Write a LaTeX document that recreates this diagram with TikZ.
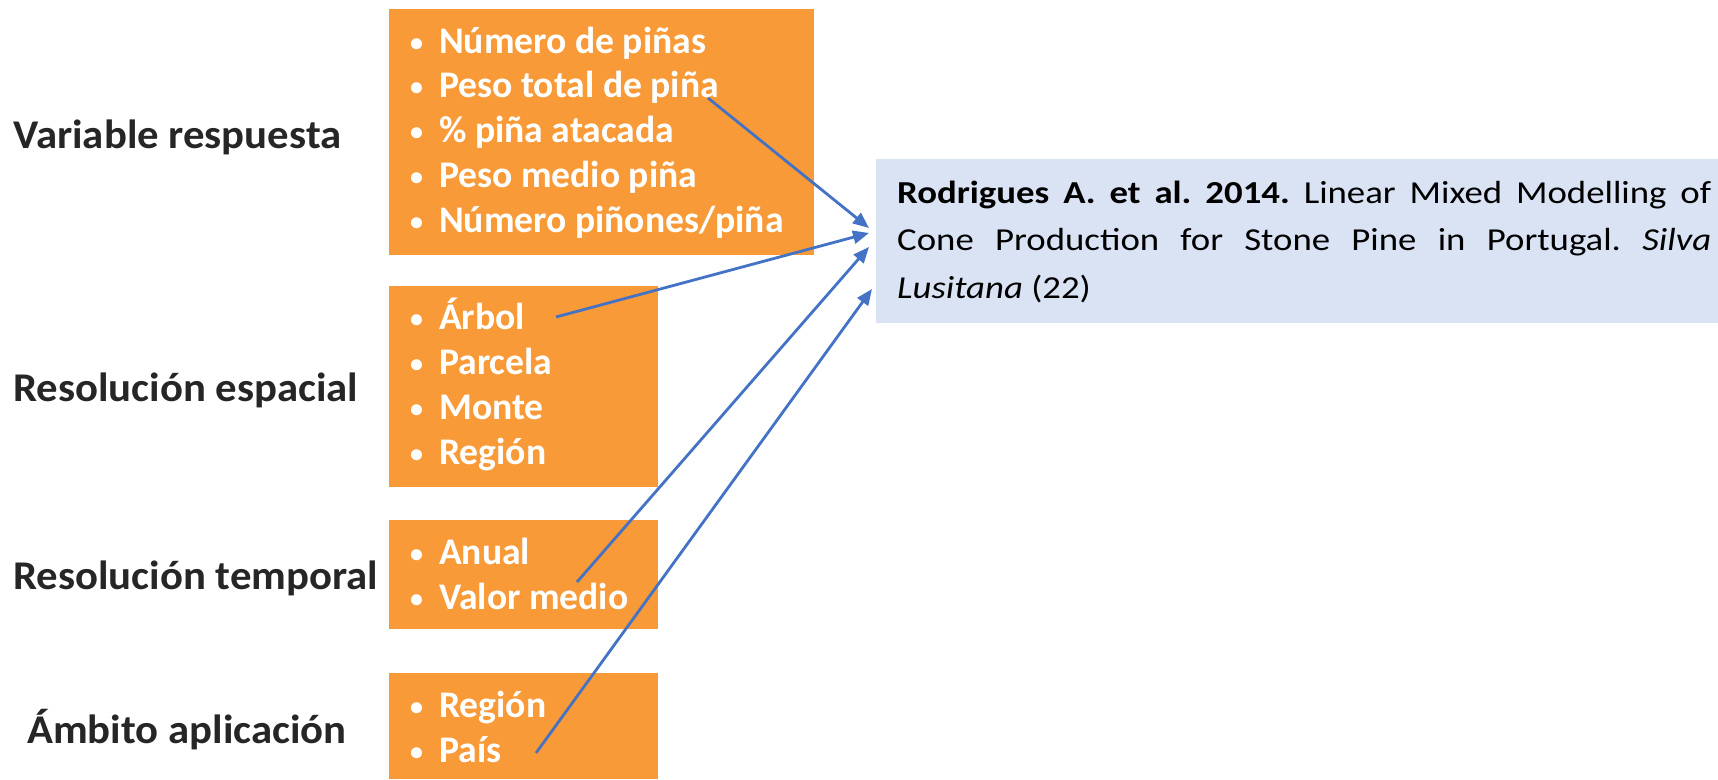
\documentclass[tikz,border=0pt]{standalone}
\usepackage{fontspec}
\setmainfont{Carlito}
\newfontfamily\labelfont{Carlito}[FakeStretch=1.048]
\newfontfamily\reffont{Carlito}[FakeStretch=1.15]
\usetikzlibrary{arrows.meta}
\definecolor{boxorange}{RGB}{249,154,56}
\definecolor{refblue}{RGB}{218,227,243}
\definecolor{arrowblue}{RGB}{68,114,196}
\definecolor{labelgray}{RGB}{38,38,38}
\newcommand\itembullet{\makebox[29pt][l]{\raisebox{2pt}{\fontsize{26}{26}\selectfont •}}}
\begin{document}
\begin{tikzpicture}[x=1pt,y=-1pt,
  obox/.style={fill=boxorange, draw=none, anchor=north west, inner sep=0},
  lbl/.style={anchor=base west, inner sep=0, font=\labelfont\fontsize{40.8}{48}\selectfont\bfseries, text=labelgray},
  items/.style={anchor=base west, inner sep=0, align=left, font=\fontsize{37.6}{44.7}\selectfont\bfseries, text=white},
  link/.style={draw=arrowblue, line width=2.8pt, -{Triangle[length=16pt,width=13pt]}}
]
\useasboundingbox (0,0) rectangle (1718,779);
\fill[white] (0,0) rectangle (1718,779);

% orange boxes
\node[obox, minimum width=425pt, minimum height=246pt] (b1) at (389,9) {};
\node[obox, minimum width=269pt, minimum height=201pt] (b2) at (389,286) {};
\node[obox, minimum width=269pt, minimum height=109pt] (b3) at (389,520) {};
\node[obox, minimum width=269pt, minimum height=106pt] (b4) at (389,673) {};

% reference box
\node[fill=refblue, draw=none, anchor=north west, inner sep=0, minimum width=842pt, minimum height=164pt] (ref) at (876,159) {};
\node[anchor=base west, inner sep=0, text width=814pt, align=justify,
      font=\reffont\fontsize{32}{47.5}\selectfont, text=black] (reftext) at (897,203)
  {\frenchspacing\hyphenpenalty=10000 {\bfseries Rodrigues A. et al. 2014.} Linear Mixed Modelling of\linebreak Cone Production for Stone Pine in Portugal. \textit{Silva}\linebreak \textit{Lusitana} (22)};

% left labels
\node[lbl] (l1) at (13,148) {Variable respuesta};
\node[lbl] (l2) at (13,401) {Resolución espacial};
\node[lbl] (l3) at (13,589) {Resolución temporal};
\node[lbl] (l4) at (27,743) {Ámbito aplicación};

% item lists (anchored at the baseline of their last line)
\node[items] (i1) at (410,232) {\itembullet Número de piñas\\ \itembullet Peso total de piña\\ \itembullet \% piña atacada\\ \itembullet Peso medio piña\\ \itembullet Número piñones/piña};
\node[items] (i2) at (410,464) {\itembullet Árbol\\ \itembullet Parcela\\ \itembullet Monte\\ \itembullet Región};
\node[items] (i3) at (410,609) {\itembullet Anual\\ \itembullet Valor medio};
\node[items] (i4) at (410,762) {\itembullet Región\\ \itembullet País};

% connector ends
\coordinate (s1) at (708,98);  \coordinate (e1) at (869,228);
\coordinate (s2) at (556,317); \coordinate (e2) at (869,233);
\coordinate (s3) at (577,582); \coordinate (e3) at (869,247);
\coordinate (s4) at (536,753); \coordinate (e4) at (872,289);

\draw[link] (s1) -- (e1);
\draw[link] (s2) -- (e2);
\draw[link] (s3) -- (e3);
\draw[link] (s4) -- (e4);
\end{tikzpicture}
\end{document}
